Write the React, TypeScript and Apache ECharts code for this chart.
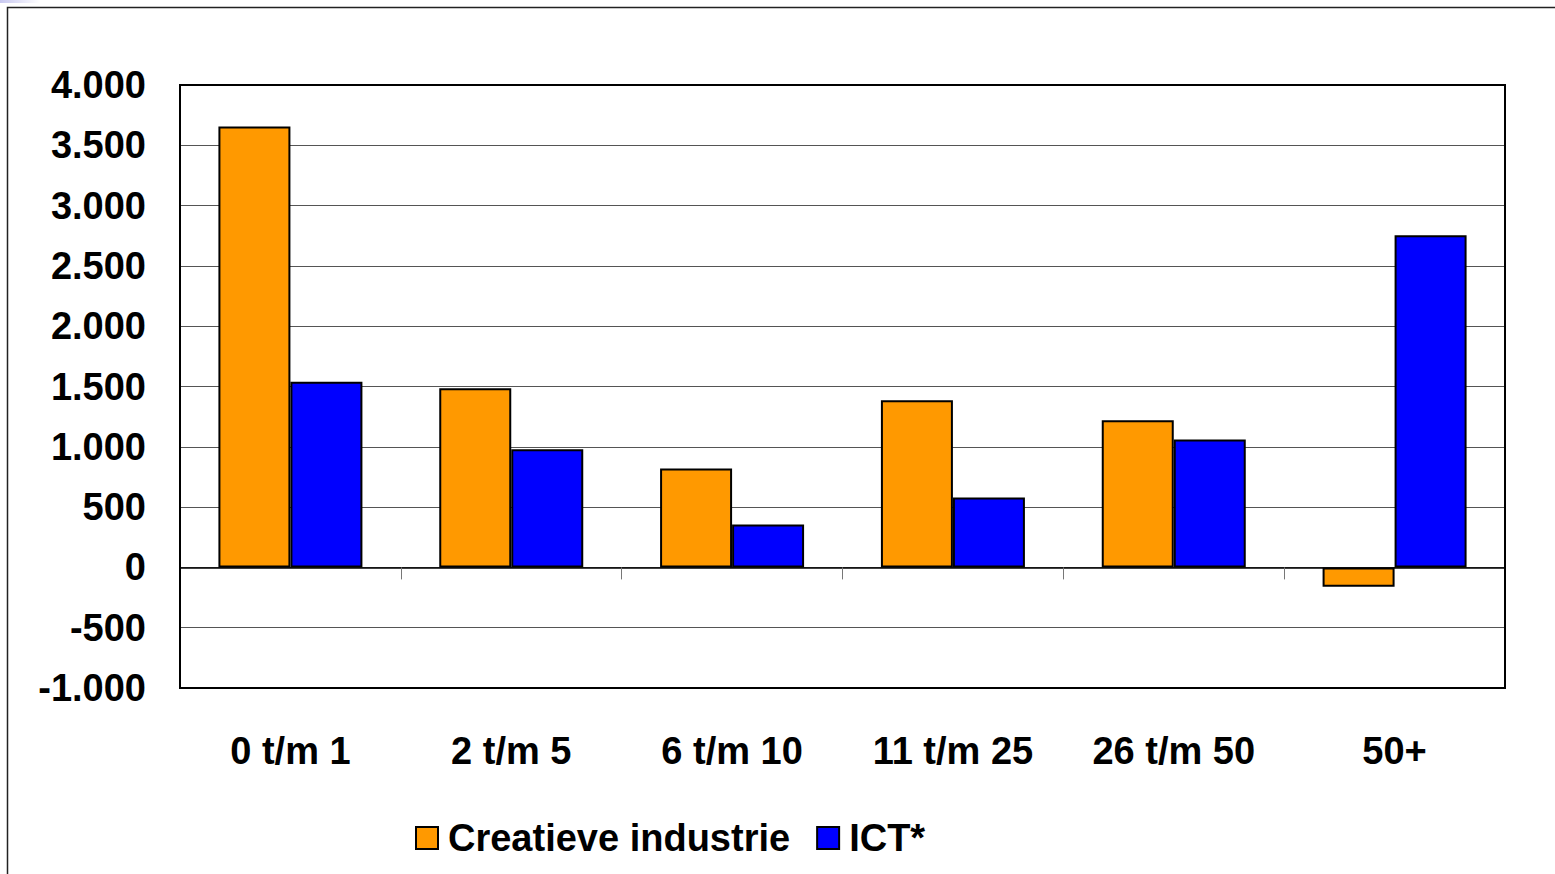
import React, { useEffect, useRef } from "react";
import * as echarts from "echarts";

const categories = ["0 t/m 1", "2 t/m 5", "6 t/m 10", "11 t/m 25", "26 t/m 50", "50+"];
const creatieveIndustrie = [3655, 1485, 820, 1385, 1220, -160];
const ict = [1540, 980, 355, 580, 1060, 2755];
const seriesNames = ["Creatieve industrie", "ICT*"];
const yMin = -1000;
const yMax = 4000;
const yInterval = 500;

const FONT = "'Liberation Sans', Arial, sans-serif";

function fmt(v: number): string {
  const s = Math.abs(v).toString().replace(/\B(?=(\d{3})+(?!\d))/g, ".");
  return (v < 0 ? "-" : "") + s;
}

export default function App() {
  const ref = useRef<HTMLDivElement>(null);
  useEffect(() => {
    if (!ref.current) return;
    const chart = echarts.init(ref.current, null, { renderer: "svg" });
    const labelStyle = { color: "#000", fontWeight: "bold" as const, fontSize: 38, fontFamily: FONT };
    chart.setOption({
      animation: false,
      backgroundColor: "#fff",
      graphic: [
        {
          type: "rect",
          shape: { x: 0, y: 0, width: 40, height: 3 },
          style: {
            fill: new echarts.graphic.LinearGradient(0, 0, 1, 0, [
              { offset: 0, color: "#c8c8f0" },
              { offset: 1, color: "#ffffff" },
            ]),
          },
        },
        {
          type: "rect",
          shape: { x: 7.5, y: 7.5, width: 1600, height: 900 },
          style: { fill: "none", stroke: "#222", lineWidth: 1.5 },
          silent: true,
        },
      ],
      grid: {
        left: 180,
        right: 50,
        top: 85,
        bottom: 186,
        show: true,
        borderColor: "#000",
        borderWidth: 2,
        backgroundColor: "transparent",
        z: 5,
      },
      legend: {
        left: 410,
        top: 814,
        itemWidth: 22,
        itemHeight: 22,
        itemGap: 26,
        icon: "rect",
        textStyle: { ...labelStyle, padding: [0, 0, 0, 5] },
        itemStyle: { borderColor: "#000", borderWidth: 2 },
        data: seriesNames,
      },
      xAxis: [
        {
          type: "category",
          data: categories,
          axisLine: { show: true, onZero: true, lineStyle: { color: "#000", width: 1.5 } },
          axisTick: { show: true, length: 12, lineStyle: { color: "#777", width: 1 } },
          axisLabel: { show: false },
          splitLine: { show: false },
          z: 4,
        },
        {
          type: "category",
          data: categories,
          position: "bottom",
          axisLine: { show: false, onZero: false },
          axisTick: { show: false },
          axisLabel: { ...labelStyle, margin: 44 },
        },
      ],
      yAxis: {
        type: "value",
        min: yMin,
        max: yMax,
        interval: yInterval,
        axisLine: { show: false },
        axisTick: { show: false },
        axisLabel: { ...labelStyle, margin: 34, formatter: (v: number) => fmt(v) },
        splitLine: { show: true, lineStyle: { color: "#555", width: 1 } },
      },
      series: [
        {
          name: seriesNames[0],
          type: "bar",
          data: creatieveIndustrie,
          barWidth: 72,
          barGap: "0%",
          itemStyle: { color: "#FF9900", borderColor: "#000", borderWidth: 2 },
        },
        {
          name: seriesNames[1],
          type: "bar",
          data: ict,
          barWidth: 72,
          barGap: "0%",
          itemStyle: { color: "#0000FF", borderColor: "#000", borderWidth: 2 },
        },
      ],
    });
    return () => chart.dispose();
  }, []);
  return (
    <div
      ref={ref}
      style={{ position: "fixed", left: 0, top: 0, width: 1555, height: 874 }}
    />
  );
}
